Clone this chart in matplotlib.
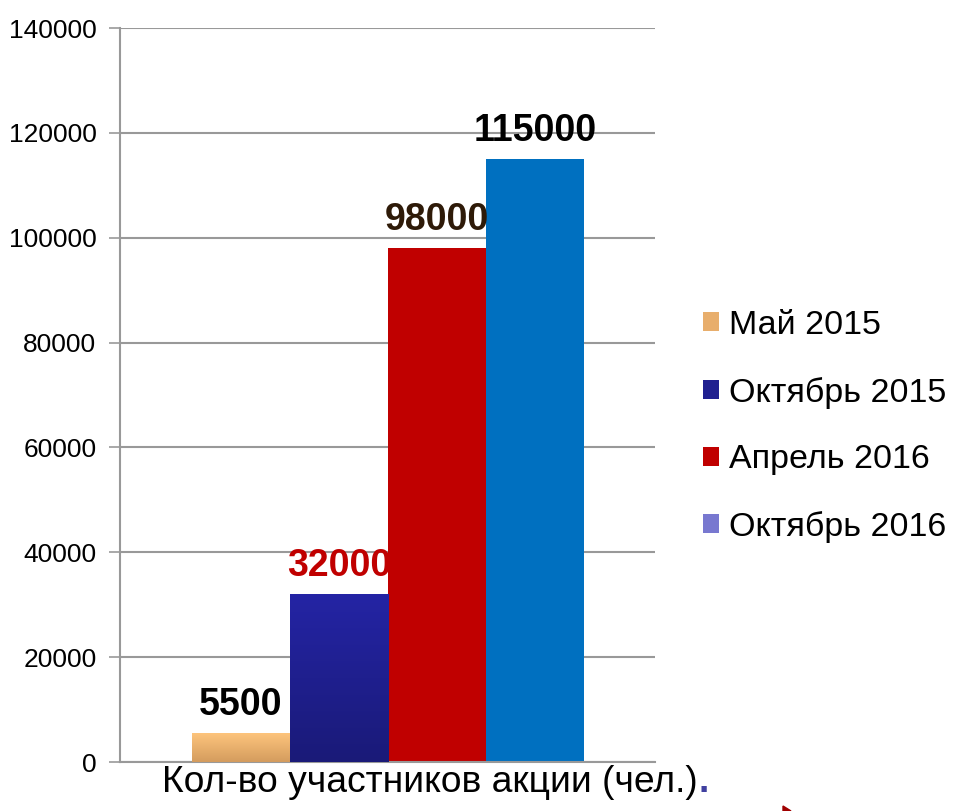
import numpy as np
import matplotlib.pyplot as plt
from matplotlib.patches import Patch, Polygon
from matplotlib.colors import LinearSegmentedColormap

plt.rcParams['font.family'] = ['Liberation Sans', 'DejaVu Sans']

periods = ["Май 2015", "Октябрь 2015", "Апрель 2016", "Октябрь 2016"]
participants = [5500, 32000, 98000, 115000]
bar_top = ["#fdc47c", "#2424a4", "#c00000", "#0070c0"]
bar_bottom = ["#d49c5e", "#1a1a78", "#c00000", "#0070c0"]
label_colors = ["black", "#c00000", "#2e1a08", "black"]
legend_colors = ["#e8ae6c", "#202090", "#c00000", "#7878d0"]
xlabel = "Кол-во участников акции (чел.)"

fig = plt.figure(figsize=(9.58, 8.11), dpi=100)
ax = fig.add_axes([120/958, 49/811, 535/958, 734/811])

x = np.arange(len(participants))
bars = ax.bar(x, participants, width=1.0, color=bar_top, zorder=2)

# vertical gradient on each bar
for b, c1, c2 in zip(bars, bar_top, bar_bottom):
    if c1 == c2:
        continue
    cmap = LinearSegmentedColormap.from_list("g", [c2, c1])
    x0, y0 = b.get_x(), b.get_y()
    im = ax.imshow(np.linspace(0, 1, 100).reshape(-1, 1), cmap=cmap, origin="lower",
                   extent=[x0, x0 + b.get_width(), y0, y0 + b.get_height()],
                   aspect="auto", zorder=3)
    im.set_clip_path(b)

for xi, v, col in zip(x, participants, label_colors):
    ax.text(xi, v + 2000, str(v), ha="center", va="bottom",
            fontsize=27, fontweight="bold", color=col, zorder=4)

ax.set_xlim(-1.235, 4.224)
ax.set_ylim(0, 140000)
ax.set_yticks(np.arange(0, 140001, 20000))
ax.set_xticks([])
ax.tick_params(axis="y", labelsize=19, length=8, width=1.2, color="#999999", pad=9)
ax.yaxis.grid(True, color="#999999", linewidth=1.5, zorder=0)
ax.set_axisbelow(True)
for s in ["top", "right"]:
    ax.spines[s].set_visible(False)
for s in ["left", "bottom"]:
    ax.spines[s].set_color("#999999")
    ax.spines[s].set_linewidth(1.5)

handles = [Patch(facecolor=c, edgecolor="none") for c in legend_colors]
fig.legend(handles, periods, loc="upper left", bbox_to_anchor=(703/958, 1 - 310/811),
           frameon=False, fontsize=24.5, handlelength=0.48, handleheight=0.48,
           handletextpad=0.27, labelspacing=1.05, borderaxespad=0, borderpad=0)

lab = fig.text(162/958, 1 - 782/811, xlabel, fontsize=26.8, ha="left", va="center",
               family=["Liberation Sans Narrow", "Liberation Sans"])
fig.canvas.draw()
bb = lab.get_window_extent()
fig.text(bb.x1 / 958 + 1/958, 1 - 782/811, ".", fontsize=27, fontweight="bold",
         color="#4040a0", ha="left", va="center")

fig.patches.append(Polygon([[783/958, 5/811], [791/958, 0], [783/958, 0]],
                           closed=True, transform=fig.transFigure, color="#a00000"))

fig.savefig("out.png", dpi=100)
